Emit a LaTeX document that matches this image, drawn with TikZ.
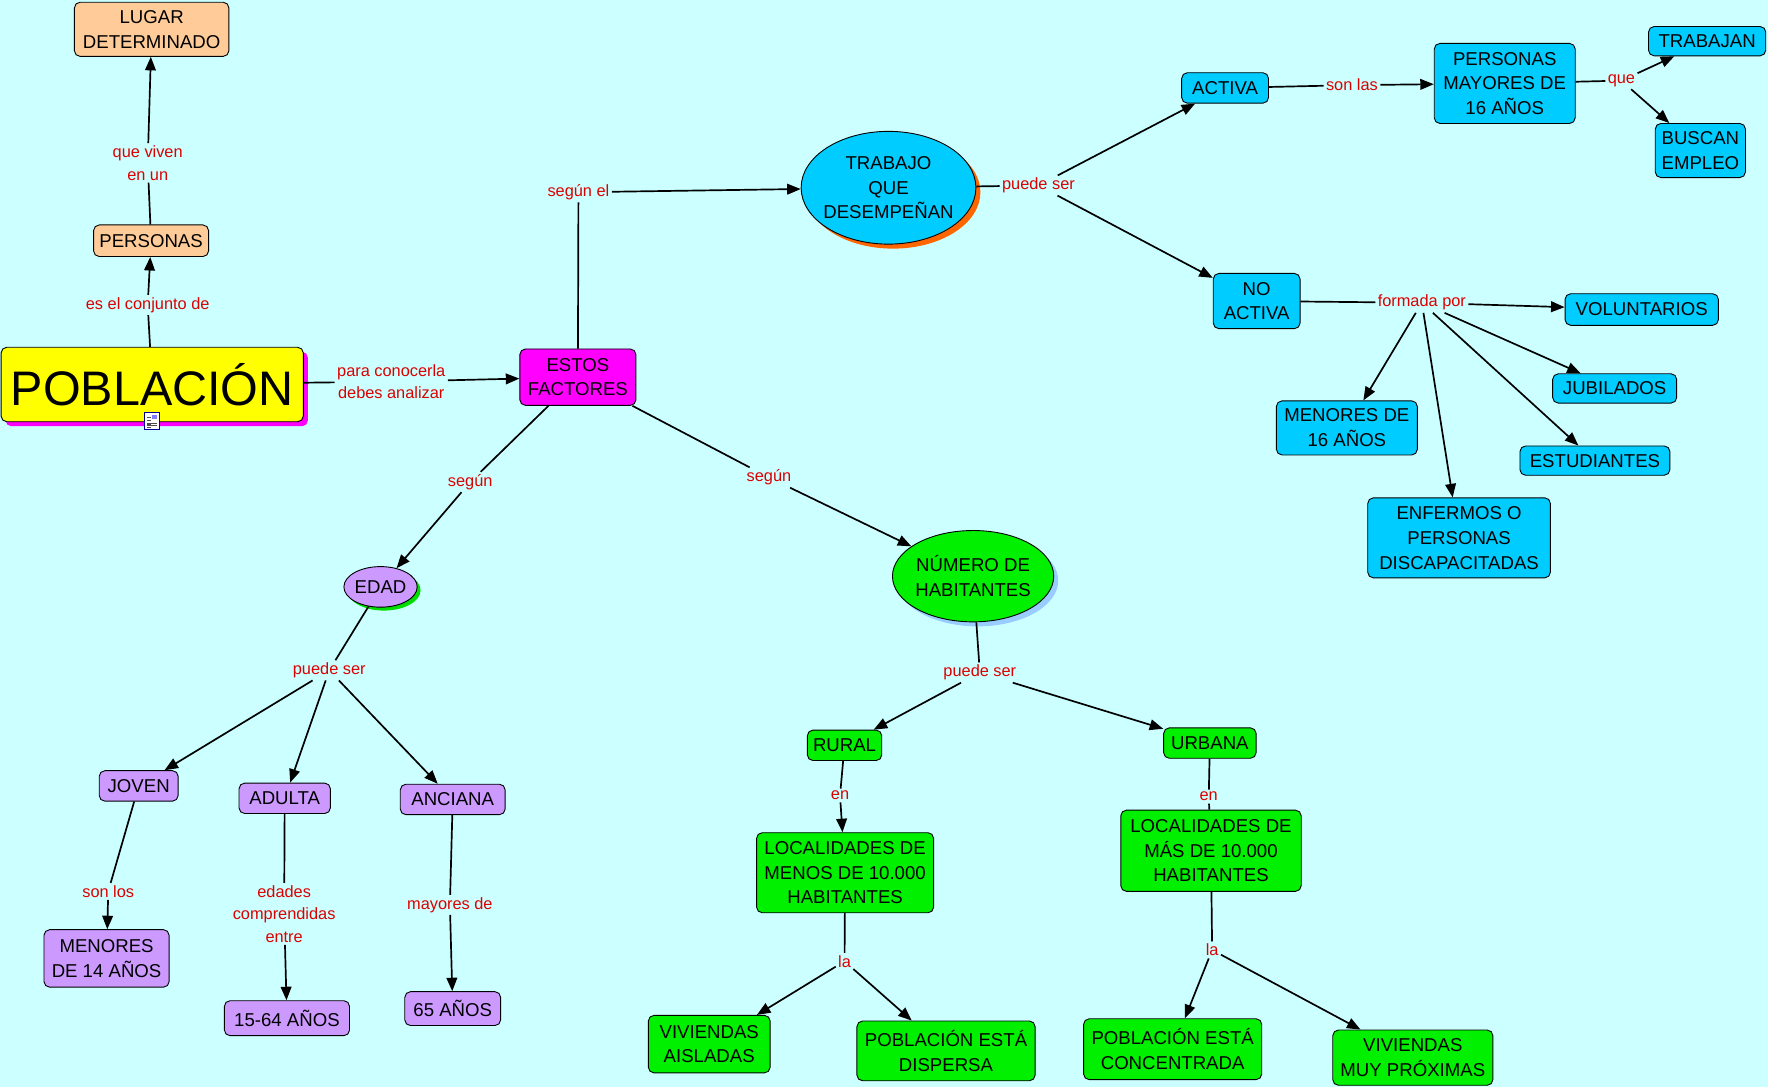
\documentclass[tikz,border=0pt]{standalone}
\usepackage{fontspec}
\setmainfont{Liberation Sans}
\usetikzlibrary{shapes.geometric,arrows.meta,shadows}
\definecolor{cbg}{HTML}{CCFFFF}
\definecolor{cpeach}{HTML}{FFCC99}
\definecolor{cyellow}{HTML}{FFFF00}
\definecolor{cmag}{HTML}{FF00FF}
\definecolor{cblue}{HTML}{00CCFF}
\definecolor{cgreen}{HTML}{00F000}
\definecolor{cpurple}{HTML}{CC99FF}
\definecolor{corange}{HTML}{FF6600}
\definecolor{cltblue}{HTML}{99CCFF}
\definecolor{cgrsh}{HTML}{00DD00}
\definecolor{lred}{HTML}{DD0000}
\newcommand\nodefnt{\fontsize{16.5}{22}\selectfont}
\newcommand\lblfnt{\fontsize{14.5}{20}\selectfont}
\begin{document}
\begin{tikzpicture}[x=1pt,y=-1pt,
  cbox/.style={draw=black,line width=0.8pt,rounded corners=5pt,align=center,inner sep=0pt,font=\nodefnt},
  ell/.style={ellipse,draw=black,line width=0.8pt,align=center,inner sep=0pt,font=\nodefnt},
  sz/.style 2 args={minimum width=#1pt,minimum height=#2pt},
  peachbox/.style={cbox,fill=cpeach},
  bluebox/.style={cbox,fill=cblue},
  greenbox/.style={cbox,fill=cgreen},
  purplebox/.style={cbox,fill=cpurple},
  lbl/.style={text=lred,font=\lblfnt,align=center,inner sep=2pt},
  ln/.style={line width=1.5pt},
  arr/.style={ln,-{Triangle[length=12pt,width=9.5pt]}},
  shd/.style 2 args={drop shadow={shadow xshift=#1pt,shadow yshift=-#1pt,fill=#2,opacity=1}}
]
\fill[cbg] (0,0) rectangle (1568,964);
\useasboundingbox (0,0) rectangle (1568,964);

% concept nodes
\node[peachbox,sz={137}{48}] (lugar) at (134.5,26) {LUGAR\\DETERMINADO};
\node[peachbox,sz={102}{28}] (pers) at (134,213.5) {PERSONAS};
\node[cbox,fill=cyellow,sz={268}{66},font=\fontsize{43}{50}\selectfont,shd={4}{cmag}] (pob) at (135,341) {POBLACIÓN};
\node[cbox,fill=cmag,sz={103}{50}] (est) at (512.5,334.5) {ESTOS\\FACTORES};
\node[ell,fill=cblue,sz={155}{100},inner xsep=-4pt,shd={4}{corange}] (trab) at (788,166.5) {TRABAJO\\QUE\\DESEMPEÑAN};
\node[bluebox,sz={77}{27}] (act) at (1086.5,78) {ACTIVA};
\node[bluebox,sz={125}{71}] (pm16) at (1334.5,74) {PERSONAS\\MAYORES DE\\16 AÑOS};
\node[bluebox,sz={104}{26}] (trabj) at (1514,36.5) {TRABAJAN};
\node[bluebox,sz={80}{48}] (busc) at (1508,133.5) {BUSCAN\\EMPLEO};
\node[bluebox,sz={77}{49}] (noact) at (1114.5,267) {NO\\ACTIVA};
\node[bluebox,sz={136}{28}] (volu) at (1456,274.5) {VOLUNTARIOS};
\node[bluebox,sz={110}{26}] (jubi) at (1432,344.5) {JUBILADOS};
\node[bluebox,sz={133}{26}] (estu) at (1414.5,408.5) {ESTUDIANTES};
\node[bluebox,sz={125}{48}] (men16) at (1194.5,379.5) {MENORES DE\\16 AÑOS};
\node[bluebox,sz={162}{71}] (enfe) at (1294,477) {ENFERMOS O\\PERSONAS\\DISCAPACITADAS};
\node[ell,fill=cpurple,sz={65}{36},shd={3}{cgrsh}] (edad) at (337.5,520.5) {EDAD};
\node[ell,fill=cgreen,sz={143}{81},inner xsep=-2pt,shd={4}{cltblue}] (num) at (863,511) {NÚMERO DE\\HABITANTES};
\node[purplebox,sz={70}{27}] (joven) at (123,697) {JOVEN};
\node[purplebox,sz={81}{27}] (adulta) at (252.5,708) {ADULTA};
\node[purplebox,sz={93}{27}] (anciana) at (401.5,709) {ANCIANA};
\node[purplebox,sz={111}{51}] (men14) at (94.5,850) {MENORES\\DE 14 AÑOS};
\node[purplebox,sz={111}{31}] (e1564) at (254.5,903) {15-64 AÑOS};
\node[purplebox,sz={85}{30}] (a65) at (401.5,894.5) {65 AÑOS};
\node[greenbox,sz={66}{27}] (rural) at (749,661) {RURAL};
\node[greenbox,sz={82}{27}] (urbana) at (1073,659) {URBANA};
\node[greenbox,sz={157}{71}] (loc1) at (749.5,774) {LOCALIDADES DE\\MENOS DE 10.000\\HABITANTES};
\node[greenbox,sz={160}{72}] (loc2) at (1074,754.5) {LOCALIDADES DE\\MÁS DE 10.000\\HABITANTES};
\node[greenbox,sz={108}{51}] (viva) at (629,926) {VIVIENDAS\\AISLADAS};
\node[greenbox,sz={158}{53}] (pobd) at (839,932) {POBLACIÓN ESTÁ\\DISPERSA};
\node[greenbox,sz={158}{54}] (pobc) at (1040,930.5) {POBLACIÓN ESTÁ\\CONCENTRADA};
\node[greenbox,sz={142}{49}] (vivm) at (1253,938) {VIVIENDAS\\MUY PRÓXIMAS};

% small resource icon under POBLACION
\draw[fill=white,draw=blue!60!black,line width=0.6pt] (128,366) rectangle (141,381);
\fill[blue!50] (134.5,368) rectangle (139.5,372);
\foreach \yy in {370,373,376,379} \draw[black!70,line width=0.6pt] (130,\yy) -- (133.5,\yy);
\foreach \yy in {375,377.5} \draw[black!70,line width=0.6pt] (130,\yy) -- (139.5,\yy);

% linking phrases
\node[lbl] (l1) at (131,270.5) {es el conjunto de};
\node[lbl] (l2) at (131,144.5) {que viven\\en un};
\node[lbl] (l3) at (347,338.5) {para conocerla\\debes analizar};
\node[lbl] (l4) at (513,170.5) {según el};
\node[lbl] (l5) at (921,164.5) {puede ser};
\node[lbl] (l6) at (1199,75.5) {son las};
\node[lbl] (l7) at (1438,71.5) {que};
\node[lbl] (l8) at (1261,268.5) {formada por};
\node[lbl] (l9) at (417,427.5) {según};
\node[lbl] (l10) at (682,423.5) {según};
\node[lbl] (l11) at (292,594.5) {puede ser};
\node[lbl] (l12) at (869,596.5) {puede ser};
\node[lbl] (l13) at (96,790.5) {son los};
\node[lbl] (l14) at (252,810.5) {edades\\comprendidas\\entre};
\node[lbl] (l15) at (399,802.5) {mayores de};
\node[lbl] (l16) at (745,705.5) {en};
\node[lbl] (l17) at (1072,706.5) {en};
\node[lbl] (l18) at (749,852.5) {la};
\node[lbl] (l19) at (1075,842.5) {la};

% connectors
\draw[ln] (pob) -- (l1); \draw[arr] (l1) -- (pers);
\draw[ln] (pers) -- (l2); \draw[arr] (l2) -- (lugar);
\draw[ln] (pob) -- (l3); \draw[arr] (l3) -- (est);
\draw[ln] (est) -- (l4); \draw[arr] (l4) -- (trab);
\draw[ln] (trab) -- (l5); \draw[arr] (l5) -- (act); \draw[arr] (l5) -- (noact);
\draw[ln] (act) -- (l6); \draw[arr] (l6) -- (pm16);
\draw[ln] (pm16) -- (l7); \draw[arr] (l7) -- (trabj); \draw[arr] (l7) -- (busc);
\draw[ln] (noact) -- (l8);
\draw[arr] (l8) -- (volu); \draw[arr] (l8) -- (jubi); \draw[arr] (l8) -- (estu);
\draw[arr] (l8) -- (men16); \draw[arr] (l8) -- (enfe);
\draw[ln] (est) -- (l9); \draw[arr] (l9) -- (edad);
\draw[ln] (est) -- (l10); \draw[arr] (l10) -- (num);
\draw[ln] (edad) -- (l11);
\draw[arr] (l11) -- (joven); \draw[arr] (l11) -- (adulta); \draw[arr] (l11) -- (anciana);
\draw[ln] (joven) -- (l13); \draw[arr] (l13) -- (men14);
\draw[ln] (adulta) -- (l14); \draw[arr] (l14) -- (e1564);
\draw[ln] (anciana) -- (l15); \draw[arr] (l15) -- (a65);
\draw[ln] (num) -- (l12); \draw[arr] (l12) -- (rural); \draw[arr] (l12) -- (urbana);
\draw[ln] (rural) -- (l16); \draw[arr] (l16) -- (loc1);
\draw[ln] (urbana) -- (l17); \draw[ln] (l17) -- (loc2);
\draw[ln] (loc1) -- (l18); \draw[arr] (l18) -- (viva); \draw[arr] (l18) -- (pobd);
\draw[ln] (loc2) -- (l19); \draw[arr] (l19) -- (pobc); \draw[arr] (l19) -- (vivm);
\end{tikzpicture}
\end{document}
